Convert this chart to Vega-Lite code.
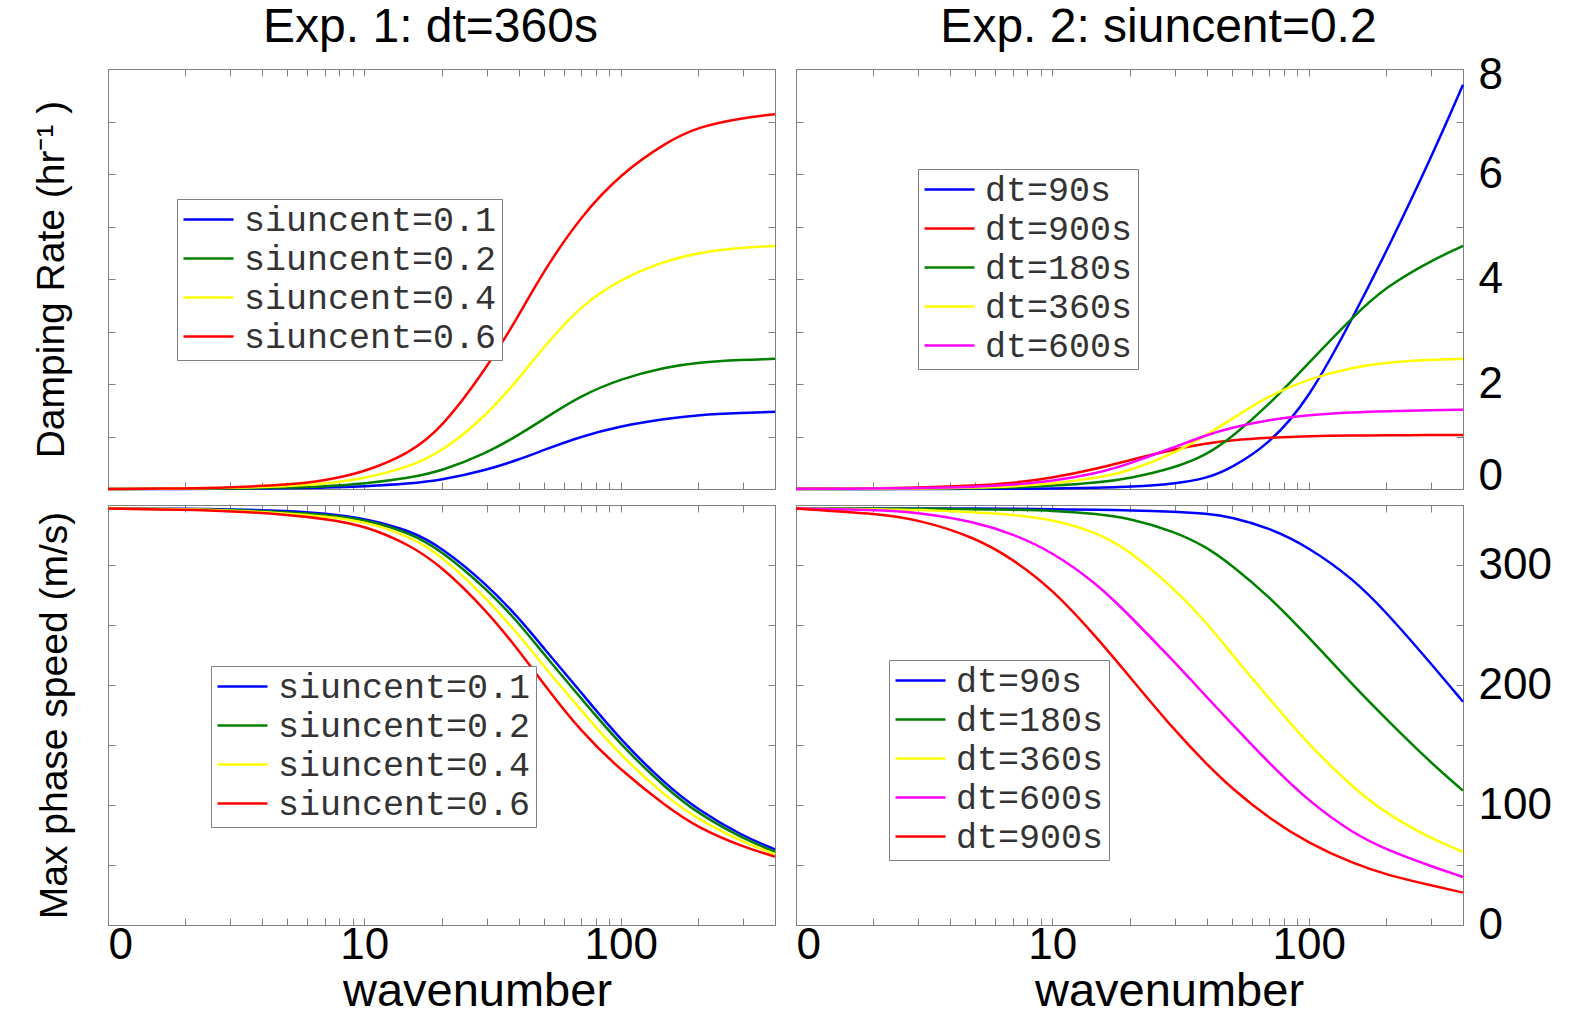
{
  "$schema": "https://vega.github.io/schema/vega-lite/v6.json",
  "background": "white",
  "padding": {"left": 32, "top": 3, "right": 5, "bottom": 0},
  "columns": 2,
  "spacing": {"row": 16, "column": 21},
  "bounds": "flush",
  "datasets": {
    "tl": [
      {"k":1,"v":0,"s":"siuncent=0.1"},{"k":2,"v":0.002,"s":"siuncent=0.1"},{"k":3,"v":0.005,"s":"siuncent=0.1"},{"k":5,"v":0.012,"s":"siuncent=0.1"},{"k":7,"v":0.025,"s":"siuncent=0.1"},{"k":10,"v":0.05,"s":"siuncent=0.1"},{"k":15,"v":0.1,"s":"siuncent=0.1"},{"k":20,"v":0.17,"s":"siuncent=0.1"},{"k":30,"v":0.36,"s":"siuncent=0.1"},{"k":40,"v":0.56,"s":"siuncent=0.1"},{"k":50,"v":0.74,"s":"siuncent=0.1"},{"k":70,"v":1.0,"s":"siuncent=0.1"},{"k":100,"v":1.2,"s":"siuncent=0.1"},{"k":150,"v":1.34,"s":"siuncent=0.1"},{"k":200,"v":1.41,"s":"siuncent=0.1"},{"k":300,"v":1.45,"s":"siuncent=0.1"},{"k":400,"v":1.47,"s":"siuncent=0.1"},
      {"k":1,"v":0,"s":"siuncent=0.2"},{"k":2,"v":0.004,"s":"siuncent=0.2"},{"k":3,"v":0.01,"s":"siuncent=0.2"},{"k":5,"v":0.025,"s":"siuncent=0.2"},{"k":7,"v":0.05,"s":"siuncent=0.2"},{"k":10,"v":0.1,"s":"siuncent=0.2"},{"k":15,"v":0.21,"s":"siuncent=0.2"},{"k":20,"v":0.34,"s":"siuncent=0.2"},{"k":30,"v":0.68,"s":"siuncent=0.2"},{"k":40,"v":1.03,"s":"siuncent=0.2"},{"k":50,"v":1.33,"s":"siuncent=0.2"},{"k":70,"v":1.78,"s":"siuncent=0.2"},{"k":100,"v":2.1,"s":"siuncent=0.2"},{"k":150,"v":2.32,"s":"siuncent=0.2"},{"k":200,"v":2.41,"s":"siuncent=0.2"},{"k":300,"v":2.46,"s":"siuncent=0.2"},{"k":400,"v":2.48,"s":"siuncent=0.2"},
      {"k":1,"v":0,"s":"siuncent=0.4"},{"k":2,"v":0.008,"s":"siuncent=0.4"},{"k":3,"v":0.02,"s":"siuncent=0.4"},{"k":5,"v":0.05,"s":"siuncent=0.4"},{"k":7,"v":0.1,"s":"siuncent=0.4"},{"k":10,"v":0.2,"s":"siuncent=0.4"},{"k":15,"v":0.42,"s":"siuncent=0.4"},{"k":20,"v":0.7,"s":"siuncent=0.4"},{"k":30,"v":1.4,"s":"siuncent=0.4"},{"k":40,"v":2.1,"s":"siuncent=0.4"},{"k":50,"v":2.7,"s":"siuncent=0.4"},{"k":70,"v":3.5,"s":"siuncent=0.4"},{"k":100,"v":4.0,"s":"siuncent=0.4"},{"k":150,"v":4.35,"s":"siuncent=0.4"},{"k":200,"v":4.5,"s":"siuncent=0.4"},{"k":300,"v":4.6,"s":"siuncent=0.4"},{"k":400,"v":4.63,"s":"siuncent=0.4"},
      {"k":1,"v":0,"s":"siuncent=0.6"},{"k":2,"v":0.01,"s":"siuncent=0.6"},{"k":3,"v":0.03,"s":"siuncent=0.6"},{"k":5,"v":0.08,"s":"siuncent=0.6"},{"k":7,"v":0.16,"s":"siuncent=0.6"},{"k":10,"v":0.32,"s":"siuncent=0.6"},{"k":15,"v":0.68,"s":"siuncent=0.6"},{"k":20,"v":1.15,"s":"siuncent=0.6"},{"k":30,"v":2.3,"s":"siuncent=0.6"},{"k":40,"v":3.3,"s":"siuncent=0.6"},{"k":50,"v":4.15,"s":"siuncent=0.6"},{"k":70,"v":5.2,"s":"siuncent=0.6"},{"k":100,"v":6.0,"s":"siuncent=0.6"},{"k":150,"v":6.6,"s":"siuncent=0.6"},{"k":200,"v":6.9,"s":"siuncent=0.6"},{"k":300,"v":7.07,"s":"siuncent=0.6"},{"k":400,"v":7.14,"s":"siuncent=0.6"}
    ],
    "tr": [
      {"k":1,"v":0,"s":"dt=90s"},{"k":2,"v":0,"s":"dt=90s"},{"k":3,"v":0.001,"s":"dt=90s"},{"k":5,"v":0.003,"s":"dt=90s"},{"k":7,"v":0.005,"s":"dt=90s"},{"k":10,"v":0.01,"s":"dt=90s"},{"k":15,"v":0.02,"s":"dt=90s"},{"k":20,"v":0.04,"s":"dt=90s"},{"k":30,"v":0.1,"s":"dt=90s"},{"k":40,"v":0.2,"s":"dt=90s"},{"k":50,"v":0.4,"s":"dt=90s"},{"k":70,"v":0.85,"s":"dt=90s"},{"k":100,"v":1.7,"s":"dt=90s"},{"k":150,"v":3.3,"s":"dt=90s"},{"k":200,"v":4.5,"s":"dt=90s"},{"k":300,"v":6.3,"s":"dt=90s"},{"k":400,"v":7.7,"s":"dt=90s"},
      {"k":1,"v":0.003,"s":"dt=900s"},{"k":2,"v":0.01,"s":"dt=900s"},{"k":3,"v":0.025,"s":"dt=900s"},{"k":5,"v":0.062,"s":"dt=900s"},{"k":7,"v":0.113,"s":"dt=900s"},{"k":10,"v":0.21,"s":"dt=900s"},{"k":15,"v":0.39,"s":"dt=900s"},{"k":20,"v":0.55,"s":"dt=900s"},{"k":30,"v":0.76,"s":"dt=900s"},{"k":40,"v":0.87,"s":"dt=900s"},{"k":50,"v":0.93,"s":"dt=900s"},{"k":70,"v":0.98,"s":"dt=900s"},{"k":100,"v":1.01,"s":"dt=900s"},{"k":150,"v":1.02,"s":"dt=900s"},{"k":200,"v":1.02,"s":"dt=900s"},{"k":300,"v":1.03,"s":"dt=900s"},{"k":400,"v":1.03,"s":"dt=900s"},
      {"k":1,"v":0,"s":"dt=180s"},{"k":2,"v":0.002,"s":"dt=180s"},{"k":3,"v":0.005,"s":"dt=180s"},{"k":5,"v":0.015,"s":"dt=180s"},{"k":7,"v":0.03,"s":"dt=180s"},{"k":10,"v":0.06,"s":"dt=180s"},{"k":15,"v":0.12,"s":"dt=180s"},{"k":20,"v":0.2,"s":"dt=180s"},{"k":30,"v":0.4,"s":"dt=180s"},{"k":40,"v":0.65,"s":"dt=180s"},{"k":50,"v":0.98,"s":"dt=180s"},{"k":70,"v":1.6,"s":"dt=180s"},{"k":100,"v":2.4,"s":"dt=180s"},{"k":150,"v":3.3,"s":"dt=180s"},{"k":200,"v":3.85,"s":"dt=180s"},{"k":300,"v":4.35,"s":"dt=180s"},{"k":400,"v":4.63,"s":"dt=180s"},
      {"k":1,"v":0,"s":"dt=360s"},{"k":2,"v":0.004,"s":"dt=360s"},{"k":3,"v":0.01,"s":"dt=360s"},{"k":5,"v":0.025,"s":"dt=360s"},{"k":7,"v":0.05,"s":"dt=360s"},{"k":10,"v":0.1,"s":"dt=360s"},{"k":15,"v":0.21,"s":"dt=360s"},{"k":20,"v":0.34,"s":"dt=360s"},{"k":30,"v":0.68,"s":"dt=360s"},{"k":40,"v":1.03,"s":"dt=360s"},{"k":50,"v":1.33,"s":"dt=360s"},{"k":70,"v":1.78,"s":"dt=360s"},{"k":100,"v":2.1,"s":"dt=360s"},{"k":150,"v":2.32,"s":"dt=360s"},{"k":200,"v":2.41,"s":"dt=360s"},{"k":300,"v":2.46,"s":"dt=360s"},{"k":400,"v":2.48,"s":"dt=360s"},
      {"k":1,"v":0.002,"s":"dt=600s"},{"k":2,"v":0.007,"s":"dt=600s"},{"k":3,"v":0.015,"s":"dt=600s"},{"k":5,"v":0.04,"s":"dt=600s"},{"k":7,"v":0.08,"s":"dt=600s"},{"k":10,"v":0.15,"s":"dt=600s"},{"k":15,"v":0.3,"s":"dt=600s"},{"k":20,"v":0.48,"s":"dt=600s"},{"k":30,"v":0.8,"s":"dt=600s"},{"k":40,"v":1.03,"s":"dt=600s"},{"k":50,"v":1.17,"s":"dt=600s"},{"k":70,"v":1.32,"s":"dt=600s"},{"k":100,"v":1.41,"s":"dt=600s"},{"k":150,"v":1.46,"s":"dt=600s"},{"k":200,"v":1.48,"s":"dt=600s"},{"k":300,"v":1.5,"s":"dt=600s"},{"k":400,"v":1.51,"s":"dt=600s"}
    ],
    "bl": [
      {"k":1,"v":347,"s":"siuncent=0.1"},{"k":2,"v":347,"s":"siuncent=0.1"},{"k":3,"v":346.5,"s":"siuncent=0.1"},{"k":5,"v":345,"s":"siuncent=0.1"},{"k":7,"v":343,"s":"siuncent=0.1"},{"k":10,"v":339,"s":"siuncent=0.1"},{"k":15,"v":329,"s":"siuncent=0.1"},{"k":20,"v":315,"s":"siuncent=0.1"},{"k":30,"v":284,"s":"siuncent=0.1"},{"k":40,"v":256,"s":"siuncent=0.1"},{"k":50,"v":231,"s":"siuncent=0.1"},{"k":70,"v":194,"s":"siuncent=0.1"},{"k":100,"v":154,"s":"siuncent=0.1"},{"k":150,"v":117,"s":"siuncent=0.1"},{"k":200,"v":96,"s":"siuncent=0.1"},{"k":300,"v":74,"s":"siuncent=0.1"},{"k":400,"v":63,"s":"siuncent=0.1"},
      {"k":1,"v":347,"s":"siuncent=0.2"},{"k":2,"v":346.5,"s":"siuncent=0.2"},{"k":3,"v":346,"s":"siuncent=0.2"},{"k":5,"v":344,"s":"siuncent=0.2"},{"k":7,"v":342,"s":"siuncent=0.2"},{"k":10,"v":338,"s":"siuncent=0.2"},{"k":15,"v":327,"s":"siuncent=0.2"},{"k":20,"v":312,"s":"siuncent=0.2"},{"k":30,"v":280,"s":"siuncent=0.2"},{"k":40,"v":252,"s":"siuncent=0.2"},{"k":50,"v":226,"s":"siuncent=0.2"},{"k":70,"v":189,"s":"siuncent=0.2"},{"k":100,"v":150,"s":"siuncent=0.2"},{"k":150,"v":114,"s":"siuncent=0.2"},{"k":200,"v":93,"s":"siuncent=0.2"},{"k":300,"v":72,"s":"siuncent=0.2"},{"k":400,"v":61,"s":"siuncent=0.2"},
      {"k":1,"v":347,"s":"siuncent=0.4"},{"k":2,"v":346.5,"s":"siuncent=0.4"},{"k":3,"v":345.5,"s":"siuncent=0.4"},{"k":5,"v":343,"s":"siuncent=0.4"},{"k":7,"v":340.5,"s":"siuncent=0.4"},{"k":10,"v":336.5,"s":"siuncent=0.4"},{"k":15,"v":324,"s":"siuncent=0.4"},{"k":20,"v":308,"s":"siuncent=0.4"},{"k":30,"v":272,"s":"siuncent=0.4"},{"k":40,"v":242,"s":"siuncent=0.4"},{"k":50,"v":216,"s":"siuncent=0.4"},{"k":70,"v":179,"s":"siuncent=0.4"},{"k":100,"v":141,"s":"siuncent=0.4"},{"k":150,"v":107,"s":"siuncent=0.4"},{"k":200,"v":88,"s":"siuncent=0.4"},{"k":300,"v":69,"s":"siuncent=0.4"},{"k":400,"v":59,"s":"siuncent=0.4"},
      {"k":1,"v":347,"s":"siuncent=0.6"},{"k":2,"v":346,"s":"siuncent=0.6"},{"k":3,"v":345,"s":"siuncent=0.6"},{"k":5,"v":342,"s":"siuncent=0.6"},{"k":7,"v":338.5,"s":"siuncent=0.6"},{"k":10,"v":333,"s":"siuncent=0.6"},{"k":15,"v":317,"s":"siuncent=0.6"},{"k":20,"v":299,"s":"siuncent=0.6"},{"k":30,"v":262,"s":"siuncent=0.6"},{"k":40,"v":229,"s":"siuncent=0.6"},{"k":50,"v":201,"s":"siuncent=0.6"},{"k":70,"v":161,"s":"siuncent=0.6"},{"k":100,"v":129,"s":"siuncent=0.6"},{"k":150,"v":99,"s":"siuncent=0.6"},{"k":200,"v":81,"s":"siuncent=0.6"},{"k":300,"v":65,"s":"siuncent=0.6"},{"k":400,"v":57,"s":"siuncent=0.6"}
    ],
    "br": [
      {"k":1,"v":347,"s":"dt=90s"},{"k":2,"v":347,"s":"dt=90s"},{"k":3,"v":347,"s":"dt=90s"},{"k":5,"v":347,"s":"dt=90s"},{"k":7,"v":347,"s":"dt=90s"},{"k":10,"v":346.5,"s":"dt=90s"},{"k":15,"v":346,"s":"dt=90s"},{"k":20,"v":345.5,"s":"dt=90s"},{"k":30,"v":344.5,"s":"dt=90s"},{"k":40,"v":343,"s":"dt=90s"},{"k":50,"v":340,"s":"dt=90s"},{"k":70,"v":331,"s":"dt=90s"},{"k":100,"v":315,"s":"dt=90s"},{"k":150,"v":288,"s":"dt=90s"},{"k":200,"v":261,"s":"dt=90s"},{"k":300,"v":218,"s":"dt=90s"},{"k":400,"v":186,"s":"dt=90s"},
      {"k":1,"v":347,"s":"dt=180s"},{"k":2,"v":347,"s":"dt=180s"},{"k":3,"v":347,"s":"dt=180s"},{"k":5,"v":346.5,"s":"dt=180s"},{"k":7,"v":346,"s":"dt=180s"},{"k":10,"v":345.5,"s":"dt=180s"},{"k":15,"v":342.5,"s":"dt=180s"},{"k":20,"v":339,"s":"dt=180s"},{"k":30,"v":328,"s":"dt=180s"},{"k":40,"v":315,"s":"dt=180s"},{"k":50,"v":300,"s":"dt=180s"},{"k":70,"v":274,"s":"dt=180s"},{"k":100,"v":240,"s":"dt=180s"},{"k":150,"v":199,"s":"dt=180s"},{"k":200,"v":172,"s":"dt=180s"},{"k":300,"v":135,"s":"dt=180s"},{"k":400,"v":112,"s":"dt=180s"},
      {"k":1,"v":347,"s":"dt=360s"},{"k":2,"v":346.5,"s":"dt=360s"},{"k":3,"v":346,"s":"dt=360s"},{"k":5,"v":344,"s":"dt=360s"},{"k":7,"v":342,"s":"dt=360s"},{"k":10,"v":338,"s":"dt=360s"},{"k":15,"v":327,"s":"dt=360s"},{"k":20,"v":312,"s":"dt=360s"},{"k":30,"v":280,"s":"dt=360s"},{"k":40,"v":252,"s":"dt=360s"},{"k":50,"v":226,"s":"dt=360s"},{"k":70,"v":189,"s":"dt=360s"},{"k":100,"v":150,"s":"dt=360s"},{"k":150,"v":114,"s":"dt=360s"},{"k":200,"v":93,"s":"dt=360s"},{"k":300,"v":72,"s":"dt=360s"},{"k":400,"v":61,"s":"dt=360s"},
      {"k":1,"v":347,"s":"dt=600s"},{"k":2,"v":346,"s":"dt=600s"},{"k":3,"v":344,"s":"dt=600s"},{"k":5,"v":336,"s":"dt=600s"},{"k":7,"v":326,"s":"dt=600s"},{"k":10,"v":311,"s":"dt=600s"},{"k":15,"v":284,"s":"dt=600s"},{"k":20,"v":258,"s":"dt=600s"},{"k":30,"v":219,"s":"dt=600s"},{"k":40,"v":190,"s":"dt=600s"},{"k":50,"v":168,"s":"dt=600s"},{"k":70,"v":135,"s":"dt=600s"},{"k":100,"v":103,"s":"dt=600s"},{"k":150,"v":76,"s":"dt=600s"},{"k":200,"v":63,"s":"dt=600s"},{"k":300,"v":49,"s":"dt=600s"},{"k":400,"v":40,"s":"dt=600s"},
      {"k":1,"v":347,"s":"dt=900s"},{"k":2,"v":343,"s":"dt=900s"},{"k":3,"v":338,"s":"dt=900s"},{"k":5,"v":323,"s":"dt=900s"},{"k":7,"v":305,"s":"dt=900s"},{"k":10,"v":280,"s":"dt=900s"},{"k":15,"v":239,"s":"dt=900s"},{"k":20,"v":207,"s":"dt=900s"},{"k":30,"v":162,"s":"dt=900s"},{"k":40,"v":134,"s":"dt=900s"},{"k":50,"v":114,"s":"dt=900s"},{"k":70,"v":89,"s":"dt=900s"},{"k":100,"v":68,"s":"dt=900s"},{"k":150,"v":51,"s":"dt=900s"},{"k":200,"v":42,"s":"dt=900s"},{"k":300,"v":33,"s":"dt=900s"},{"k":400,"v":27,"s":"dt=900s"}
    ]
  },
  "concat": [
    {
      "width": 667, "height": 420,
      "title": {"text": "Exp. 1: dt=360s", "anchor": "middle", "dx": -11, "dy": 50, "offset": 29, "baseline": "alphabetic"},
      "data": {"name": "tl"},
      "layer": [
        {
          "mark": {"type": "line", "strokeWidth": 2.5, "interpolate": "basis"},
          "encoding": {
            "x": {"field": "k", "type": "quantitative", "scale": {"type": "log", "domain": [1, 400], "nice": false},
                  "axis": {"orient": "bottom", "values": [1,2,3,4,5,6,7,8,9,10,20,30,40,50,60,70,80,90,100,200,300,400], "labels": false, "title": null}},
            "y": {"field": "v", "type": "quantitative", "scale": {"domain": [0, 8], "nice": false},
                  "axis": {"orient": "left", "values": [0,1,2,3,4,5,6,7,8], "labels": false, "title": "Damping Rate (hr⁻¹ )", "titleFontSize": 39, "titlePadding": 36}},
            "color": {"field": "s", "type": "nominal",
                      "scale": {"domain": ["siuncent=0.1","siuncent=0.2","siuncent=0.4","siuncent=0.6"], "range": ["#0000ff","#008000","#ffff00","#ff0000"]},
                      "legend": {"orient": "none", "legendX": 69, "legendY": 130}}
          }
        },
        {
          "mark": {"type": "line", "opacity": 0},
          "encoding": {
            "x": {"field": "k", "type": "quantitative", "scale": {"type": "log", "domain": [1, 400], "nice": false},
                  "axis": {"orient": "top", "values": [1,2,3,4,5,6,7,8,9,10,20,30,40,50,60,70,80,90,100,200,300,400], "labels": false, "title": null}},
            "y": {"field": "v", "type": "quantitative", "scale": {"domain": [0, 8], "nice": false},
                  "axis": {"orient": "right", "values": [0,1,2,3,4,5,6,7,8], "labels": false, "title": null}},
            "detail": {"field": "s"}
          }
        }
      ],
      "resolve": {"axis": {"x": "independent", "y": "independent"}}
    },
    {
      "width": 667, "height": 420,
      "title": {"text": "Exp. 2: siuncent=0.2", "anchor": "middle", "dx": 29, "dy": 66, "offset": 29, "baseline": "alphabetic"},
      "data": {"name": "tr"},
      "layer": [
        {
          "mark": {"type": "line", "strokeWidth": 2.5, "interpolate": "basis"},
          "encoding": {
            "x": {"field": "k", "type": "quantitative", "scale": {"type": "log", "domain": [1, 400], "nice": false},
                  "axis": {"orient": "bottom", "values": [1,2,3,4,5,6,7,8,9,10,20,30,40,50,60,70,80,90,100,200,300,400], "labels": false, "title": null}},
            "y": {"field": "v", "type": "quantitative", "scale": {"domain": [0, 8], "nice": false},
                  "axis": {"orient": "right", "values": [0,1,2,3,4,5,6,7,8], "labelExpr": "datum.value % 2 == 0 ? datum.label : ''", "labelBaseline": "middle",
                           "labelOffset": {"condition": [{"test": "datum.value == 8", "value": 6}, {"test": "datum.value == 0", "value": -13}], "value": 0},
                           "labelPadding": 22, "title": null}},
            "color": {"field": "s", "type": "nominal",
                      "scale": {"domain": ["dt=90s","dt=900s","dt=180s","dt=360s","dt=600s"], "range": ["#0000ff","#ff0000","#008000","#ffff00","#ff00ff"]},
                      "legend": {"orient": "none", "legendX": 122, "legendY": 100}}
          }
        },
        {
          "mark": {"type": "line", "opacity": 0},
          "encoding": {
            "x": {"field": "k", "type": "quantitative", "scale": {"type": "log", "domain": [1, 400], "nice": false},
                  "axis": {"orient": "top", "values": [1,2,3,4,5,6,7,8,9,10,20,30,40,50,60,70,80,90,100,200,300,400], "labels": false, "title": null}},
            "y": {"field": "v", "type": "quantitative", "scale": {"domain": [0, 8], "nice": false},
                  "axis": {"orient": "left", "values": [0,1,2,3,4,5,6,7,8], "labels": false, "title": null}},
            "detail": {"field": "s"}
          }
        }
      ],
      "resolve": {"axis": {"x": "independent", "y": "independent"}}
    },
    {
      "width": 667, "height": 420,
      "data": {"name": "bl"},
      "layer": [
        {
          "mark": {"type": "line", "strokeWidth": 2.5, "interpolate": "basis"},
          "encoding": {
            "x": {"field": "k", "type": "quantitative", "scale": {"type": "log", "domain": [1, 400], "nice": false},
                  "axis": {"orient": "bottom", "values": [1,2,3,4,5,6,7,8,9,10,20,30,40,50,60,70,80,90,100,200,300,400],
                           "labelExpr": "datum.value == 1 ? '0' : datum.value == 10 ? '10' : datum.value == 100 ? '100' : ''",
                           "labelFlush": true, "labelPadding": 5, "title": "wavenumber", "titleFontSize": 47, "titleX": 369, "titlePadding": 1}},
            "y": {"field": "v", "type": "quantitative", "scale": {"domain": [0, 350], "nice": false},
                  "axis": {"orient": "left", "values": [0,50,100,150,200,250,300,350], "labels": false, "title": "Max phase speed (m/s)", "titleFontSize": 39, "titlePadding": 33}},
            "color": {"field": "s", "type": "nominal",
                      "scale": {"domain": ["siuncent=0.1","siuncent=0.2","siuncent=0.4","siuncent=0.6"], "range": ["#0000ff","#008000","#ffff00","#ff0000"]},
                      "legend": {"orient": "none", "legendX": 103, "legendY": 161}}
          }
        },
        {
          "mark": {"type": "line", "opacity": 0},
          "encoding": {
            "x": {"field": "k", "type": "quantitative", "scale": {"type": "log", "domain": [1, 400], "nice": false},
                  "axis": {"orient": "top", "values": [1,2,3,4,5,6,7,8,9,10,20,30,40,50,60,70,80,90,100,200,300,400], "labels": false, "title": null}},
            "y": {"field": "v", "type": "quantitative", "scale": {"domain": [0, 350], "nice": false},
                  "axis": {"orient": "right", "values": [0,50,100,150,200,250,300,350], "labels": false, "title": null}},
            "detail": {"field": "s"}
          }
        }
      ],
      "resolve": {"axis": {"x": "independent", "y": "independent"}}
    },
    {
      "width": 667, "height": 420,
      "data": {"name": "br"},
      "layer": [
        {
          "mark": {"type": "line", "strokeWidth": 2.5, "interpolate": "basis"},
          "encoding": {
            "x": {"field": "k", "type": "quantitative", "scale": {"type": "log", "domain": [1, 400], "nice": false},
                  "axis": {"orient": "bottom", "values": [1,2,3,4,5,6,7,8,9,10,20,30,40,50,60,70,80,90,100,200,300,400],
                           "labelExpr": "datum.value == 1 ? '0' : datum.value == 10 ? '10' : datum.value == 100 ? '100' : ''",
                           "labelFlush": true, "labelPadding": 5, "title": "wavenumber", "titleFontSize": 47, "titleX": 373, "titlePadding": 1}},
            "y": {"field": "v", "type": "quantitative", "scale": {"domain": [0, 350], "nice": false},
                  "axis": {"orient": "right", "values": [0,50,100,150,200,250,300,350], "labelExpr": "datum.value % 100 == 0 ? datum.label : ''", "labelPadding": 22, "title": null}},
            "color": {"field": "s", "type": "nominal",
                      "scale": {"domain": ["dt=90s","dt=180s","dt=360s","dt=600s","dt=900s"], "range": ["#0000ff","#008000","#ffff00","#ff00ff","#ff0000"]},
                      "legend": {"orient": "none", "legendX": 93, "legendY": 155}}
          }
        },
        {
          "mark": {"type": "line", "opacity": 0},
          "encoding": {
            "x": {"field": "k", "type": "quantitative", "scale": {"type": "log", "domain": [1, 400], "nice": false},
                  "axis": {"orient": "top", "values": [1,2,3,4,5,6,7,8,9,10,20,30,40,50,60,70,80,90,100,200,300,400], "labels": false, "title": null}},
            "y": {"field": "v", "type": "quantitative", "scale": {"domain": [0, 350], "nice": false},
                  "axis": {"orient": "left", "values": [0,50,100,150,200,250,300,350], "labels": false, "title": null}},
            "detail": {"field": "s"}
          }
        }
      ],
      "resolve": {"axis": {"x": "independent", "y": "independent"}}
    }
  ],
  "resolve": {
    "scale": {"color": "independent", "x": "independent", "y": "independent"},
    "legend": {"color": "independent"},
    "axis": {"x": "independent", "y": "independent"}
  },
  "config": {
    "view": {"stroke": "#808080", "strokeWidth": 1},
    "axis": {
      "grid": false, "tickSize": -7, "tickColor": "#808080", "domainColor": "#808080",
      "labelFont": "Liberation Sans", "labelFontSize": 44, "labelColor": "#000000",
      "titleFont": "Liberation Sans", "titleFontWeight": "normal", "titleColor": "#000000",
      "labelOverlap": false
    },
    "title": {"font": "Liberation Sans", "fontSize": 48, "fontWeight": "normal", "color": "#000000"},
    "legend": {
      "title": null, "symbolType": "stroke", "symbolSize": 2500, "symbolStrokeWidth": 2.5,
      "labelFont": "Liberation Mono", "labelFontSize": 35, "labelColor": "#333333", "labelOffset": 9, "labelLimit": 0,
      "strokeColor": "#808080", "fillColor": "#ffffff", "padding": 5, "rowPadding": 3, "clipHeight": 31
    }
  }
}
